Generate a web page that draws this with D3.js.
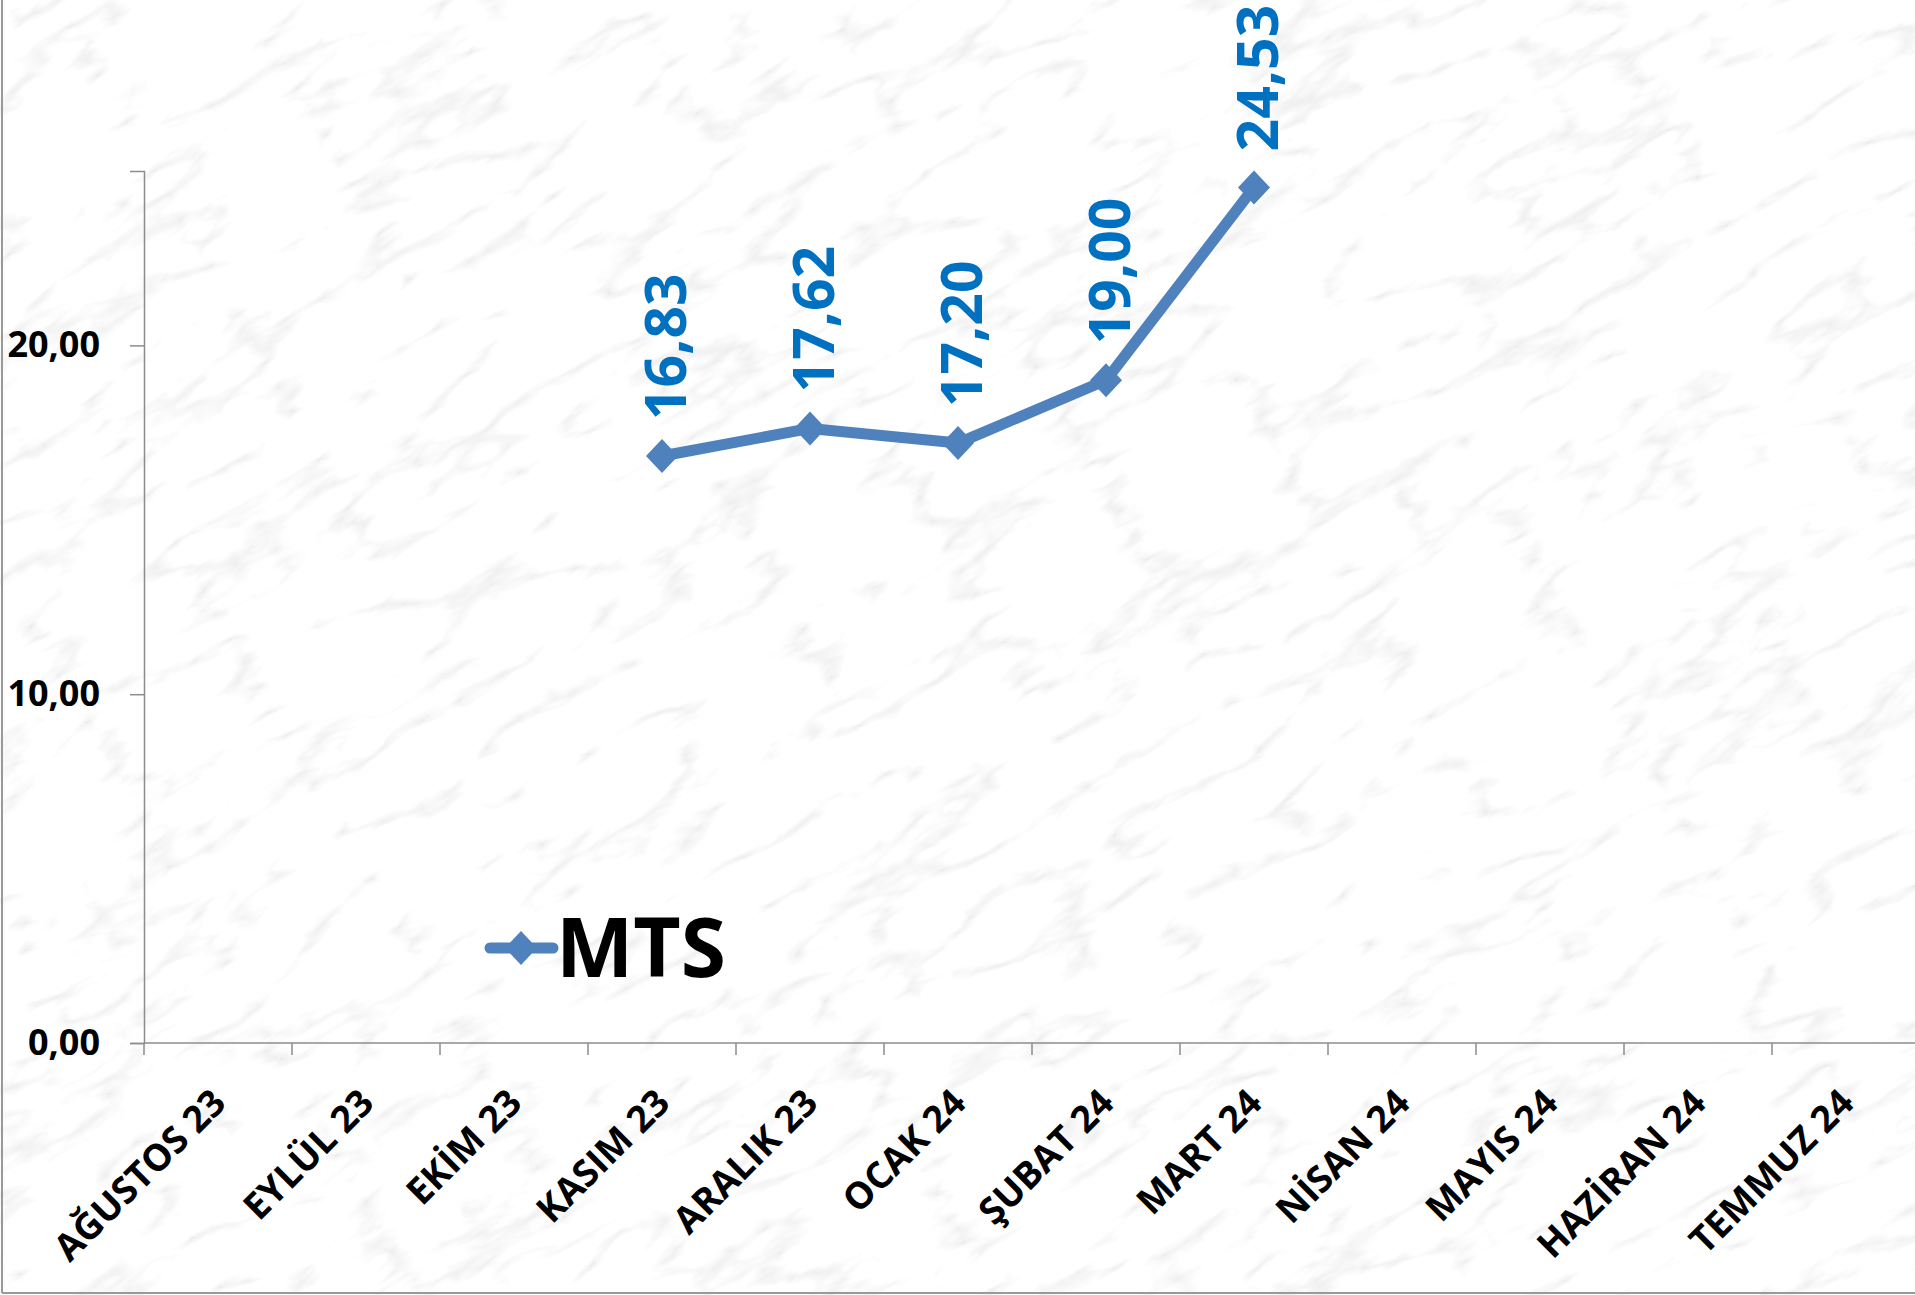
<!DOCTYPE html>
<html lang="tr">
  <head>
    <meta charset="utf-8"/>
    <title>MTS</title>
    <script src="https://cdn.jsdelivr.net/npm/d3@7/dist/d3.min.js"></script>
    <style>
      html, body { margin: 0; padding: 0; background: #f4f4f4; }
      svg { display: block; font-family: "Open Sans", "DejaVu Sans", sans-serif; }
    </style>
  </head>
  <body>
    <div id="chart"></div>
    <script>
      // chart data
      var categories = ["AĞUSTOS 23", "EYLÜL 23", "EKİM 23", "KASIM 23", "ARALIK 23", "OCAK 24",
                        "ŞUBAT 24", "MART 24", "NİSAN 24", "MAYIS 24", "HAZİRAN 24", "TEMMUZ 24"];
      var mtsValues = [null, null, null, 16.83, 17.62, 17.20, 19.00, 24.53, null, null, null, null];
      var yTicks = [0, 10, 20];
      var seriesName = "MTS";

      var W = 1915, H = 1295;
      var plotLeft = 144, plotBottom = 1043, plotTop = 171, step = 148;

      var lineColour = "#4F81BD";
      var labelColour = "#0070C0";
      var axisColour = "#8c8c8c";

      var trLocale = d3.formatLocale({decimal: ",", thousands: ".", grouping: [3], currency: ["", " TL"]});
      var fmt = trLocale.format(".2f");

      var svg = d3.select("#chart").append("svg")
        .attr("width", W)
        .attr("height", H);

      // marble-ish background
      var defs = svg.append("defs");
      var filt = defs.append("filter")
        .attr("id", "marble")
        .attr("x", 0).attr("y", 0).attr("width", "100%").attr("height", "100%");
      filt.append("feTurbulence")
        .attr("type", "turbulence")
        .attr("baseFrequency", "0.006 0.018")
        .attr("numOctaves", 4)
        .attr("seed", 3);
      filt.append("feColorMatrix")
        .attr("type", "matrix")
        .attr("values", "0.7 0 0 0 0.85  0.7 0 0 0 0.85  0.7 0 0 0 0.85  0 0 0 0 1");

      svg.append("rect")
        .attr("width", W).attr("height", H)
        .attr("fill", "#f4f4f4");
      svg.append("g")
        .attr("transform", "rotate(-30 957 647)")
        .append("rect")
        .attr("x", -700).attr("y", -700)
        .attr("width", W + 1400).attr("height", H + 1400)
        .attr("filter", "url(#marble)");

      // outer frame
      svg.append("line").attr("x1", 2).attr("x2", 2).attr("y1", 0).attr("y2", 1293)
        .attr("stroke", "#999").attr("stroke-width", 2);
      svg.append("line").attr("x1", 2).attr("x2", W).attr("y1", 1293).attr("y2", 1293)
        .attr("stroke", "#999").attr("stroke-width", 2);

      // scales
      var x = d3.scaleBand()
        .domain(categories)
        .range([plotLeft, plotLeft + step * categories.length])
        .padding(0);

      var y = d3.scaleLinear()
        .domain([0, 25])
        .range([plotBottom, plotTop]);

      // y axis
      var yAxis = svg.append("g")
        .attr("transform", "translate(" + plotLeft + ",0)")
        .call(d3.axisLeft(y).tickValues(yTicks).tickSize(14).tickPadding(30).tickFormat(fmt));
      yAxis.select(".domain").attr("stroke", axisColour).attr("stroke-width", 1.5);
      yAxis.selectAll(".tick line").attr("stroke", axisColour).attr("stroke-width", 1.5);
      yAxis.selectAll(".tick text")
        .attr("fill", "#000")
        .attr("font-size", 36)
        .attr("font-weight", 700)
        .attr("font-family", "'Open Sans', sans-serif");

      // x axis
      var xAxis = svg.append("g");
      xAxis.append("line")
        .attr("x1", plotLeft).attr("x2", W)
        .attr("y1", y(0)).attr("y2", y(0))
        .attr("stroke", axisColour).attr("stroke-width", 1.5);
      xAxis.selectAll(".xtick")
        .data(categories)
        .enter()
        .append("line")
        .attr("class", "xtick")
        .attr("x1", function(d) { return x(d); })
        .attr("x2", function(d) { return x(d); })
        .attr("y1", y(0))
        .attr("y2", y(0) + 12)
        .attr("stroke", axisColour).attr("stroke-width", 1.5);
      xAxis.selectAll(".xlabel")
        .data(categories)
        .enter()
        .append("text")
        .attr("class", "xlabel")
        .attr("transform", function(d) {
          return "translate(" + (x(d) + x.bandwidth() / 2 + 10) + "," + (y(0) + 62) + ")rotate(-45)";
        })
        .attr("text-anchor", "end")
        .attr("font-size", 37)
        .attr("font-weight", 700)
        .attr("fill", "#000")
        .text(function(d) { return d; });

      // series
      var points = categories.map(function(c, i) { return {cat: c, v: mtsValues[i]}; })
        .filter(function(d) { return d.v !== null; });

      var line = d3.line()
        .x(function(d) { return x(d.cat) + x.bandwidth() / 2; })
        .y(function(d) { return y(d.v); });

      svg.append("path")
        .datum(points)
        .attr("d", line)
        .attr("fill", "none")
        .attr("stroke", lineColour)
        .attr("stroke-width", 11)
        .attr("stroke-linejoin", "round");

      function diamond(cx, cy, r) {
        return "M" + cx + "," + (cy - r - 1) + "L" + (cx + r) + "," + cy +
               "L" + cx + "," + (cy + r + 1) + "L" + (cx - r) + "," + cy + "Z";
      }

      svg.selectAll(".marker")
        .data(points)
        .enter()
        .append("path")
        .attr("class", "marker")
        .attr("d", function(d) { return diamond(x(d.cat) + x.bandwidth() / 2, y(d.v), 16); })
        .attr("fill", lineColour);

      // data labels, rotated
      svg.selectAll(".dlabel")
        .data(points)
        .enter()
        .append("text")
        .attr("class", "dlabel")
        .attr("transform", function(d) {
          return "translate(" + (x(d.cat) + x.bandwidth() / 2 + 3) + "," + (y(d.v) - 36) + ")rotate(-90)";
        })
        .attr("dy", "0.36em")
        .attr("text-anchor", "start")
        .attr("font-size", 57)
        .attr("font-weight", 700)
        .attr("fill", labelColour)
        .text(function(d) { return fmt(d.v); });

      // legend
      var legend = svg.append("g").attr("transform", "translate(490,948)");
      legend.append("line")
        .attr("x1", 0).attr("x2", 63)
        .attr("y1", 0).attr("y2", 0)
        .attr("stroke", lineColour)
        .attr("stroke-width", 11)
        .attr("stroke-linecap", "round");
      legend.append("path")
        .attr("d", diamond(31, 0, 16))
        .attr("fill", lineColour);
      legend.append("text")
        .attr("x", 66)
        .attr("y", 29)
        .attr("font-size", 82)
        .attr("font-weight", 700)
        .attr("fill", "#000")
        .text(seriesName);
    </script>
  </body>
</html>
